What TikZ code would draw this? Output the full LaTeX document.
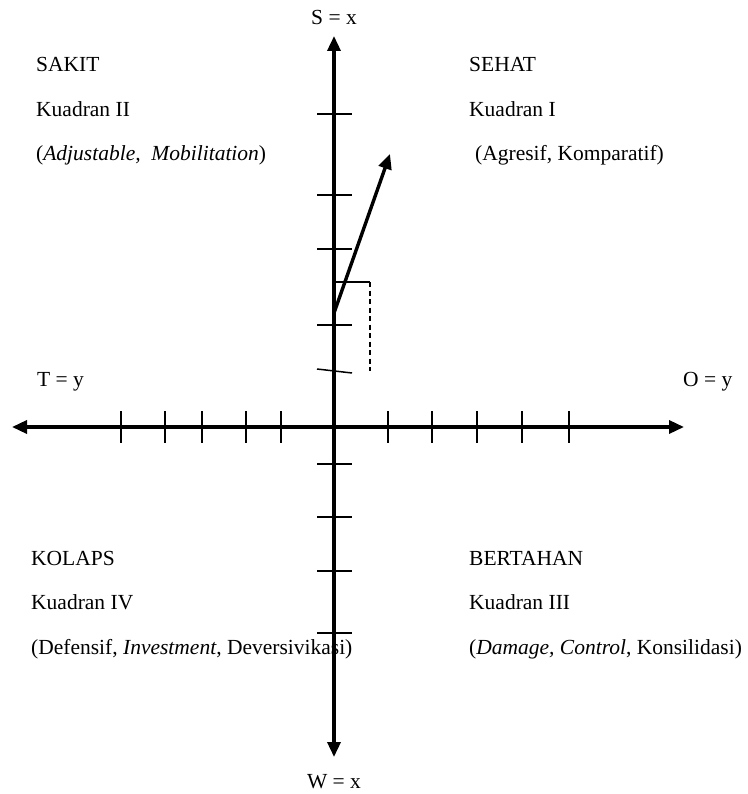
\documentclass[tikz,border=0pt]{standalone}
\usepackage{fontspec}
\setmainfont{Liberation Serif}
\usetikzlibrary{arrows.meta}
\begin{document}
\begin{tikzpicture}[x=1pt,y=-1pt,
  axis/.style={line width=3.4pt,{Triangle[length=15pt,width=13pt]}-{Triangle[length=15pt,width=13pt]}},
  vec/.style={line width=3.4pt,-{Triangle[length=15pt,width=13pt]}},
  tickmark/.style={line width=1.5pt},
  thin/.style={line width=1.5pt},
  lbl/.style={font=\fontsize{21.5}{24}\selectfont, inner sep=0pt, anchor=base west},
  axlbl/.style={font=\fontsize{21.5}{24}\selectfont, inner sep=0pt, anchor=base}]
\useasboundingbox (0,0) rectangle (747,794);
% axes
\coordinate (top) at (334,36);
\coordinate (bot) at (334,757);
\coordinate (left) at (12,427);
\coordinate (right) at (684,427);
\draw[axis] (bot) -- (top);
\draw[axis] (left) -- (right);
% ticks on horizontal axis
\foreach \x in {121,165,202,246,281,388,432,477,522,569}
  \draw[tickmark] (\x,411) -- (\x,443);
% ticks on vertical axis
\foreach \y in {114,195,249,325,464,517,571,633}
  \draw[tickmark] (317,\y) -- (352,\y);
\draw[tickmark] (317,369) -- (352,373);
% vector
\coordinate (vs) at (334,313);
\coordinate (ve) at (390,154);
\draw[vec] (vs) -- (ve);
\coordinate (b1) at (334,282);
\coordinate (b2) at (370,282);
\coordinate (b3) at (370,371);
\draw[thin] (b1) -- (b2);
\draw[thin, dash pattern=on 5pt off 3.5pt] (b2) -- (b3);
% axis labels
\node[axlbl] (S) at (334,25) {S = x};
\node[axlbl] (W) at (334,788) {W = x};
\node[lbl] (T) at (37,386) {T = y};
\node[lbl] (Oy) at (683,386) {O = y};
% quadrant texts
\node[lbl] (q2a) at (36,72) {SAKIT};
\node[lbl] (q2b) at (36,117) {Kuadran II};
\node[lbl] (q2c) at (36,161) {(\textit{Adjustable,\ \ Mobilitation})};
\node[lbl] (q1a) at (469,72) {SEHAT};
\node[lbl] (q1b) at (469,117) {Kuadran I};
\node[lbl] (q1c) at (475,161) {(Agresif, Komparatif)};
\node[lbl] (q4a) at (31,565) {KOLAPS};
\node[lbl] (q4b) at (31,609) {Kuadran IV};
\node[lbl] (q4c) at (31,654) {(Defensif, \textit{Investment}, Deversivikasi)};
\node[lbl] (q3a) at (469,565) {BERTAHAN};
\node[lbl] (q3b) at (469,609) {Kuadran III};
\node[lbl] (q3c) at (469,654) {(\textit{Damage, Control}, Konsilidasi)};
\end{tikzpicture}
\end{document}
